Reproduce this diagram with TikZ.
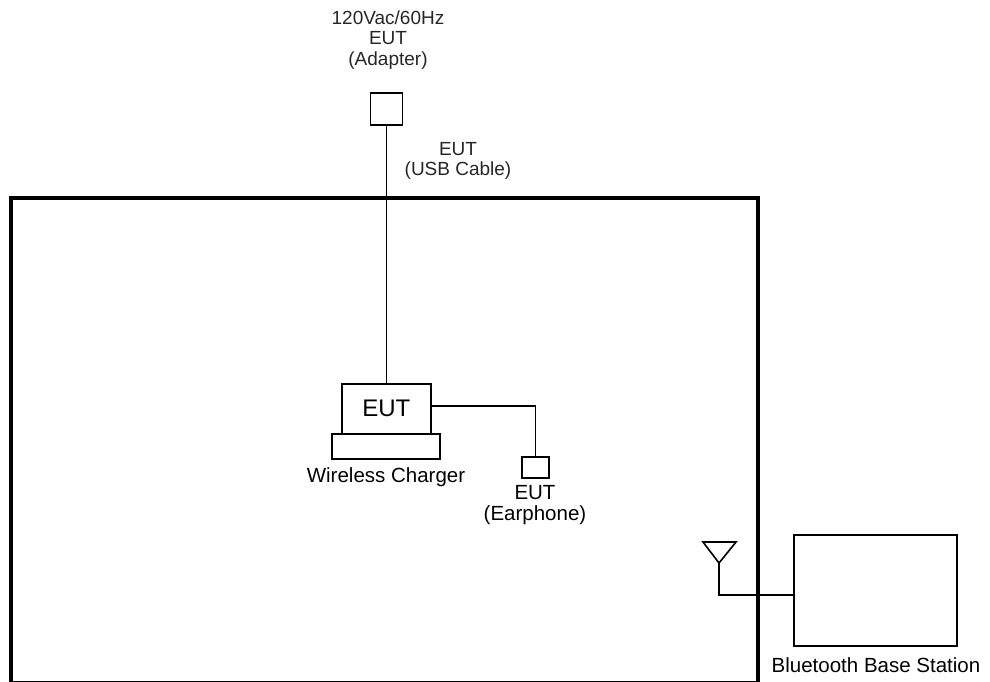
\documentclass[tikz,border=0pt]{standalone}
\usepackage{fontspec}
\setmainfont{Liberation Sans}
\begin{document}
\begin{tikzpicture}[x=1pt,y=-1pt,
  thin line/.style={line width=1.6pt, black},
  thick line/.style={line width=4pt, black},
  box/.style={draw, line width=1.6pt, inner sep=0pt, anchor=north west},
  lbl/.style={font=\fontsize{19}{20.5}\selectfont, align=center, inner sep=0pt, text=black!85},
  blbl/.style={font=\fontsize{20.5}{21}\selectfont, align=center, inner sep=0pt, text=black}
]
\useasboundingbox (0,0) rectangle (990,681);
% room
\draw[thick line] (11,198) rectangle (758,683);
% adapter
\node[box, minimum width=32pt, minimum height=32pt] (adapter) at (369.5,92) {};
\node[lbl] (adlbl) at (388,40) {120Vac/60Hz\\EUT\\(Adapter)};
\node[lbl] (usblbl) at (458,161) {EUT\\(USB Cable)};
% EUT and charger
\node[box, minimum width=89pt, minimum height=50pt] (eut) at (341,383) {};
\node[font=\fontsize{24}{26}\selectfont, inner sep=0pt] (euttxt) at (eut.center) {EUT};
\node[box, minimum width=108pt, minimum height=25pt] (charger) at (331,433) {};
\node[blbl] (chlbl) at (386,477) {Wireless Charger};
% earphone
\node[box, minimum width=27pt, minimum height=21pt] (ear) at (521,456) {};
\node[blbl] (earlbl) at (535,505) {EUT\\(Earphone)};
% antenna
\coordinate (apex) at (719,563);
\draw[thin line, line join=miter] (703,542) -- (736,542) -- (apex) -- cycle;
% base station
\node[box, minimum width=163pt, minimum height=111pt] (bs) at (793,534) {};
\node[blbl] (bslbl) at (876,665) {Bluetooth Base Station};
\coordinate (bsin) at (793,595);
% connectors
\draw[thin line] (adapter.south) -- (adapter.south |- eut.north);
\draw[thin line] (eut.east |- 0,406) -| (ear.north);
\draw[thin line] (apex) |- (bsin);
\end{tikzpicture}
\end{document}
